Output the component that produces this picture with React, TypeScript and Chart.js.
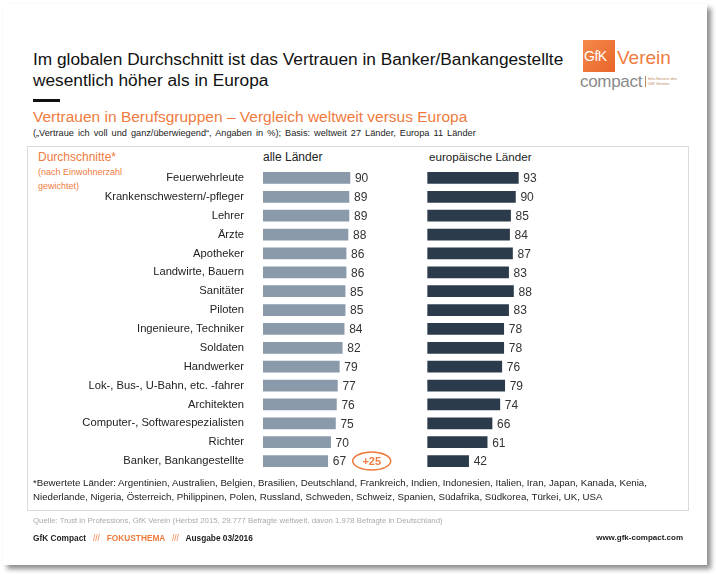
import React, { useEffect, useRef } from "react";
import { Chart, registerables } from "chart.js";

Chart.register(...registerables);

const categories = [
  "Feuerwehrleute",
  "Krankenschwestern/-pfleger",
  "Lehrer",
  "Ärzte",
  "Apotheker",
  "Landwirte, Bauern",
  "Sanitäter",
  "Piloten",
  "Ingenieure, Techniker",
  "Soldaten",
  "Handwerker",
  "Lok-, Bus-, U-Bahn, etc. -fahrer",
  "Architekten",
  "Computer-, Softwarespezialisten",
  "Richter",
  "Banker, Bankangestellte",
];
const worldValues = [90, 89, 89, 88, 86, 86, 85, 85, 84, 82, 79, 77, 76, 75, 70, 67];
const europeValues = [93, 90, 85, 84, 87, 83, 88, 83, 78, 78, 76, 79, 74, 66, 61, 42];
const highlightLabel = "+25";
const highlightIndex = 15;

const FONT = "'Liberation Sans', Arial, sans-serif";
const ORANGE = "#ef7b3e";

const valueLabels = {
  id: "valueLabels",
  afterDatasetsDraw(chart: any) {
    const ctx = chart.ctx;
    ctx.save();
    ctx.font = `12px ${FONT}`;
    ctx.fillStyle = "#333";
    ctx.textBaseline = "middle";
    ctx.textAlign = "left";
    chart.data.datasets.forEach((ds: any, di: number) => {
      const meta = chart.getDatasetMeta(di);
      meta.data.forEach((bar: any, i: number) => {
        ctx.fillText(String(ds.data[i]), bar.x + 5, bar.y + 1);
      });
    });
    // highlight ellipse
    const bar = chart.getDatasetMeta(0).data[highlightIndex];
    const cx = bar.x + 44;
    const cy = bar.y;
    ctx.strokeStyle = ORANGE;
    ctx.lineWidth = 1.5;
    ctx.beginPath();
    ctx.ellipse(cx, cy, 19, 9, 0, 0, Math.PI * 2);
    ctx.stroke();
    ctx.fillStyle = ORANGE;
    ctx.font = `bold 11px ${FONT}`;
    ctx.textAlign = "center";
    ctx.fillText(highlightLabel, cx, cy + 1);
    ctx.restore();
  },
};

function BarChart() {
  const ref = useRef<HTMLCanvasElement>(null);
  useEffect(() => {
    if (!ref.current) return;
    const chart = new Chart(ref.current, {
      type: "bar",
      data: {
        labels: categories,
        datasets: [
          {
            label: "alle Länder",
            data: worldValues,
            backgroundColor: "#8b9aab",
            xAxisID: "x1",
            grouped: false,
            barThickness: 11,
          } as any,
          {
            label: "europäische Länder",
            data: europeValues,
            backgroundColor: "#2c3b4b",
            xAxisID: "x2",
            grouped: false,
            barThickness: 11,
          } as any,
        ],
      },
      options: {
        indexAxis: "y",
        animation: false,
        responsive: false,
        layout: { padding: { top: 8.5, bottom: 9.5, left: 0, right: 0 } },
        plugins: { legend: { display: false }, tooltip: { enabled: false } },
        scales: {
          x1: { type: "linear", display: false, min: 0, max: 440 },
          x2: { type: "linear", display: false, min: -168.9, max: 267 },
          y: {
            type: "category",
            grid: { display: false },
            border: { display: false },
            ticks: {
              color: "#222",
              font: { family: FONT, size: 11.2 },
              padding: 11,
              autoSkip: false,
            },
            afterFit(scale: any) {
              scale.width = 236;
              scale.paddingTop = 0;
              scale.paddingBottom = 0;
            },
          },
        },
      },
      plugins: [valueLabels],
    });
    return () => chart.destroy();
  }, []);
  return (
    <canvas
      ref={ref}
      width={661}
      height={320}
      style={{ position: "absolute", left: 27, top: 160, width: 661, height: 320 }}
    />
  );
}

const abs = (left: number, top: number, extra: React.CSSProperties = {}): React.CSSProperties => ({
  position: "absolute",
  left,
  top,
  whiteSpace: "nowrap",
  fontFamily: FONT,
  lineHeight: 1,
  ...extra,
});

export default function App() {
  return (
    <div style={{ position: "fixed", left: 0, top: 0, width: 716, height: 575, background: "#fff", overflow: "hidden" }}>
      <div
        style={{
          position: "absolute",
          left: 3,
          top: 4,
          width: 704,
          height: 561,
          background: "#fff",
          boxShadow: "4px 4px 5px rgba(0,0,0,0.45)",
        }}
      />
      {/* Title */}
      <div style={abs(33, 51, { fontSize: 17.3, color: "#111" })}>
        Im globalen Durchschnitt ist das Vertrauen in Banker/Bankangestellte
      </div>
      <div style={abs(33, 72, { fontSize: 17.3, color: "#111" })}>
        wesentlich höher als in Europa
      </div>
      <div style={{ position: "absolute", left: 33, top: 99, width: 27, height: 3, background: "#111" }} />
      {/* Logo */}
      <div
        style={{
          position: "absolute",
          left: 583,
          top: 40,
          width: 32,
          height: 32,
          background: "linear-gradient(135deg, #f58a4b, #e8642a)",
        }}
      />
      <div style={abs(584, 49, { fontSize: 14, color: "#fff", letterSpacing: -0.5 })}>GfK</div>
      <div style={abs(617, 48, { fontSize: 19, color: ORANGE })}>Verein</div>
      <div style={abs(580, 73, { fontSize: 17, color: "#8a8a8a", letterSpacing: -0.3 })}>compact</div>
      <div style={{ position: "absolute", left: 645, top: 76, width: 1, height: 11, background: "#c08a60" }} />
      <div style={abs(648, 77, { fontSize: 4, color: "#c08a60" })}>Info-Service des</div>
      <div style={abs(648, 82, { fontSize: 4, color: "#c08a60" })}>GfK Vereins</div>
      {/* Subtitle */}
      <div style={abs(33, 109, { fontSize: 15.5, color: ORANGE })}>
        Vertrauen in Berufsgruppen – Vergleich weltweit versus Europa
      </div>
      <div style={abs(33, 129, { fontSize: 9.2, color: "#222", wordSpacing: 1.5 })}>
        („Vertraue ich voll und ganz/überwiegend“, Angaben in %); Basis: weltweit 27 Länder, Europa 11 Länder
      </div>
      {/* Inner box */}
      <div
        style={{
          position: "absolute",
          left: 27,
          top: 146,
          width: 660,
          height: 363,
          border: "1px solid #dcdad5",
        }}
      />
      <div style={abs(38, 151, { fontSize: 12, color: ORANGE })}>Durchschnitte*</div>
      <div style={abs(38, 168, { fontSize: 9, color: ORANGE })}>(nach Einwohnerzahl</div>
      <div style={abs(38, 182, { fontSize: 9, color: ORANGE })}>gewichtet)</div>
      <div style={abs(263, 151, { fontSize: 12, color: "#222" })}>alle Länder</div>
      <div style={abs(429, 151, { fontSize: 11.6, color: "#222" })}>europäische Länder</div>
      <BarChart />
      {/* Footnote */}
      <div style={abs(33, 478, { fontSize: 9.7, color: "#222" })}>
        *Bewertete Länder: Argentinien, Australien, Belgien, Brasilien, Deutschland, Frankreich, Indien, Indonesien, Italien, Iran, Japan, Kanada, Kenia,
      </div>
      <div style={abs(33, 492, { fontSize: 9.7, color: "#222" })}>
        Niederlande, Nigeria, Österreich, Philippinen, Polen, Russland, Schweden, Schweiz, Spanien, Südafrika, Südkorea, Türkei, UK, USA
      </div>
      <div style={abs(33, 517, { fontSize: 7.8, color: "#aaa" })}>
        Quelle: Trust in Professions, GfK Verein (Herbst 2015, 29.777 Befragte weltweit, davon 1.978 Befragte in Deutschland)
      </div>
      <div style={abs(33, 534, { fontSize: 8.3, color: "#222", fontWeight: "bold" })}>
        GfK Compact <span style={{ color: ORANGE, fontWeight: "normal" }}>&nbsp;&nbsp;///&nbsp;&nbsp;</span>{" "}
        <span style={{ color: ORANGE }}>FOKUSTHEMA</span>{" "}
        <span style={{ color: ORANGE, fontWeight: "normal" }}>&nbsp;&nbsp;///&nbsp;&nbsp;</span> Ausgabe 03/2016
      </div>
      <div style={abs(0, 534, { fontSize: 8, color: "#222", fontWeight: "bold", left: "auto", right: 33 })}>
        www.gfk-compact.com
      </div>
    </div>
  );
}
